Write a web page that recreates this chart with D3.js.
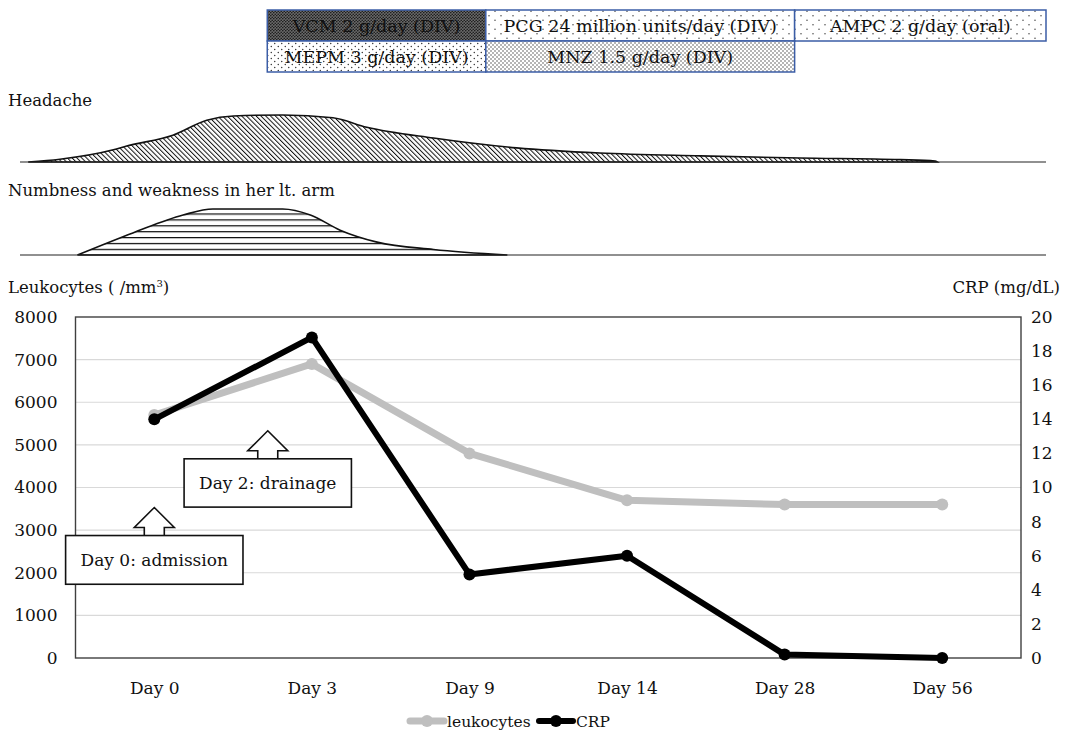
<!DOCTYPE html>
<html>
<head>
<meta charset="utf-8">
<script src="https://cdn.jsdelivr.net/npm/d3@7"></script>
<style>
  body { margin: 0; background: #fff; }
  svg { display: block; }
</style>
</head>
<body>
<svg id="chart" width="1066" height="734"></svg>
<script>
/* Clinical course figure: treatments on top, symptom profiles in the
   middle, leukocytes and CRP on a dual axis line chart at the bottom. */

// main chart data
const days = ['Day 0', 'Day 3', 'Day 9', 'Day 14', 'Day 28', 'Day 56'];
const leukocytes = [5700, 6900, 4800, 3700, 3600, 3600];
const crp = [14.0, 18.8, 4.9, 6.0, 0.2, 0.0];
const leftTicks = [0, 1000, 2000, 3000, 4000, 5000, 6000, 7000, 8000];
const rightTicks = [0, 2, 4, 6, 8, 10, 12, 14, 16, 18, 20];

// treatments, position in % of the clinical course
const treatNames = ['VCM 2 g/day (DIV)', 'PCG 24 million units/day (DIV)', 'AMPC 2 g/day (oral)',
                    'MEPM 3 g/day (DIV)', 'MNZ 1.5 g/day (DIV)'];
const treatRow = [0, 0, 0, 1, 1];
const treatStart = [24.1, 45.4, 75.5, 24.1, 45.4];
const treatEnd = [45.4, 75.5, 100, 45.4, 75.5];

// symptom intensity profiles (course %, relative intensity)
const headachePos = [0.8, 3.9, 9.1, 10.4, 14.9, 18.2, 20.8, 25.6, 30.5, 33.8, 40.3, 48.4, 56.5, 66.3, 76.0, 85.8, 89.2, 89.4];
const headacheVal = [0, 0.06, 0.26, 0.34, 0.57, 0.89, 0.98, 1, 0.94, 0.74, 0.51, 0.30, 0.19, 0.13, 0.085, 0.05, 0.02, 0];
const numbPos = [5.6, 11.0, 15.9, 18.8, 25.6, 28.3, 31.2, 34.8, 40.3, 47.5];
const numbVal = [0, 0.48, 0.87, 1, 1, 0.87, 0.54, 0.28, 0.12, 0];

// annotations: category, fraction of the way to the next category, arrow tip / box bottom (leukocyte units)
const noteText = ['Day 0: admission', 'Day 2: drainage'];
const noteDay = ['Day 0', 'Day 0'];
const noteFrac = [0, 0.72];
const noteTip = [3530, 5330];
const noteBottom = [1730, 3540];

const FONT = '"DejaVu Serif", "Liberation Serif", serif';
const BORDER_BLUE = '#3b5da6';
const treatFill = {
    'VCM 2 g/day (DIV)': 'url(#dotsDark)',
    'PCG 24 million units/day (DIV)': 'url(#dotsSparse)',
    'AMPC 2 g/day (oral)': 'url(#dotsSparse)',
    'MEPM 3 g/day (DIV)': 'url(#dotsMedium)',
    'MNZ 1.5 g/day (DIV)': 'url(#dotsDense)'
};

const svg = d3.select('#chart').attr('font-family', FONT);
const defs = svg.append('defs');

function dotPattern(id, w, h, r, bg, fg) {
    let p = defs.append('pattern').attr('id', id)
        .attr('patternUnits', 'userSpaceOnUse')
        .attr('width', w).attr('height', h);
    p.append('rect').attr('width', w).attr('height', h).attr('fill', bg);
    p.append('circle').attr('cx', w / 4).attr('cy', h / 4).attr('r', r).attr('fill', fg);
    p.append('circle').attr('cx', 3 * w / 4).attr('cy', 3 * h / 4).attr('r', r).attr('fill', fg);
}
dotPattern('dotsDark', 3, 3, 0.8, '#6a6a6a', '#1a1a1a');
dotPattern('dotsSparse', 12, 9, 0.7, '#fff', '#333');
dotPattern('dotsMedium', 7, 6, 0.7, '#fff', '#222');
dotPattern('dotsDense', 4, 4, 0.7, '#fff', '#333');

let hatch = defs.append('pattern').attr('id', 'hatchDiag')
    .attr('patternUnits', 'userSpaceOnUse')
    .attr('width', 3.4).attr('height', 10)
    .attr('patternTransform', 'rotate(-45)');
hatch.append('rect').attr('width', 3.4).attr('height', 10).attr('fill', '#fff');
hatch.append('line').attr('x1', 0.5).attr('x2', 0.5).attr('y1', 0).attr('y2', 10)
    .attr('stroke', '#111').attr('stroke-width', 1);

let horiz = defs.append('pattern').attr('id', 'hatchHoriz')
    .attr('patternUnits', 'userSpaceOnUse')
    .attr('width', 10).attr('height', 5.9).attr('y', 1);
horiz.append('rect').attr('width', 10).attr('height', 5.9).attr('fill', '#fff');
horiz.append('line').attr('x1', 0).attr('x2', 10).attr('y1', 0.6).attr('y2', 0.6)
    .attr('stroke', '#111').attr('stroke-width', 1.3);

/* ---------- treatments ---------- */
const course = d3.scaleLinear().domain([0, 100]).range([20, 1046]);
const treatY = d3.scaleBand().domain([0, 1]).range([10, 72]);

let treat = svg.append('g').selectAll('g')
    .data(treatNames.map((name, i) => ({name, row: treatRow[i], start: treatStart[i], end: treatEnd[i]})))
    .join('g');
treat.append('rect')
    .attr('x', d => course(d.start))
    .attr('y', d => treatY(d.row))
    .attr('width', d => course(d.end) - course(d.start))
    .attr('height', treatY.bandwidth())
    .attr('fill', d => treatFill[d.name])
    .attr('stroke', BORDER_BLUE)
    .attr('stroke-width', 1.5);
treat.append('text')
    .attr('x', d => (course(d.start) + course(d.end)) / 2)
    .attr('y', d => treatY(d.row) + treatY.bandwidth() / 2 + 6)
    .attr('text-anchor', 'middle')
    .attr('font-size', 17.5)
    .attr('fill', '#111')
    .text(d => d.name);

/* ---------- symptoms ---------- */
function drawSymptom(label, labelY, baseY, height, pos, val, fill) {
    let yScale = d3.scaleLinear().domain([0, 1]).range([baseY, baseY - height]);
    let data = pos.map((p, i) => ({p, v: val[i]}));
    svg.append('text').attr('x', 8).attr('y', labelY)
        .attr('font-size', 16.5).attr('fill', '#111').text(label);
    svg.append('path')
        .datum(data)
        .attr('d', d3.area().curve(d3.curveMonotoneX)
            .x(d => course(d.p)).y0(baseY).y1(d => yScale(d.v)))
        .attr('fill', fill)
        .attr('stroke', '#111')
        .attr('stroke-width', 1.6);
    svg.append('line')
        .attr('x1', course(0)).attr('x2', course(100))
        .attr('y1', baseY).attr('y2', baseY)
        .attr('stroke', '#222').attr('stroke-width', 1.2);
}
drawSymptom('Headache', 106, 162, 47, headachePos, headacheVal, 'url(#hatchDiag)');
drawSymptom('Numbness and weakness in her lt. arm', 196, 255, 46, numbPos, numbVal, 'url(#hatchHoriz)');

/* ---------- leukocytes / CRP chart ---------- */
const margin = {left: 75.5, right: 1021, top: 317, bottom: 658};
const x = d3.scalePoint().domain(days).range([margin.left, margin.right]).padding(0.5);
const yLeft = d3.scaleLinear().domain([0, 8000]).range([margin.bottom, margin.top]);
const yRight = d3.scaleLinear().domain([0, 20]).range([margin.bottom, margin.top]);

// grid
svg.append('g').selectAll('line')
    .data(leftTicks.slice(1, -1))
    .join('line')
    .attr('x1', margin.left).attr('x2', margin.right)
    .attr('y1', d => yLeft(d)).attr('y2', d => yLeft(d))
    .attr('stroke', '#d9d9d9').attr('stroke-width', 1.2);

// frame
svg.append('rect')
    .attr('x', margin.left).attr('y', margin.top)
    .attr('width', margin.right - margin.left)
    .attr('height', margin.bottom - margin.top)
    .attr('fill', 'none').attr('stroke', '#404040').attr('stroke-width', 1.4);

// axes (labels only, frame drawn above)
let leftAxis = svg.append('g')
    .attr('transform', `translate(${margin.left},0)`)
    .call(d3.axisLeft(yLeft).tickValues(leftTicks).tickFormat(d3.format('d')).tickSize(0).tickPadding(18));
let rightAxis = svg.append('g')
    .attr('transform', `translate(${margin.right},0)`)
    .call(d3.axisRight(yRight).tickValues(rightTicks).tickFormat(d3.format('d')).tickSize(0).tickPadding(10));
let bottomAxis = svg.append('g')
    .attr('transform', `translate(0,${margin.bottom})`)
    .call(d3.axisBottom(x).tickSize(0).tickPadding(24));
for (let axis of [leftAxis, rightAxis, bottomAxis]) {
    axis.attr('font-family', FONT).attr('font-size', 17);
    axis.select('.domain').remove();
    axis.selectAll('text').attr('fill', '#111');
}

// axis titles
let leftTitle = svg.append('text').attr('x', 8).attr('y', 293)
    .attr('font-size', 16.5).attr('fill', '#111');
leftTitle.append('tspan').text('Leukocytes ( /mm');
leftTitle.append('tspan').attr('font-size', 10).attr('dy', -6).text('3');
leftTitle.append('tspan').attr('dy', 6).text(')');
svg.append('text').attr('x', 1060).attr('y', 293)
    .attr('text-anchor', 'end')
    .attr('font-size', 16.5).attr('fill', '#111')
    .text('CRP (mg/dL)');

// annotations
function arrowBox(g, cx, tipY, boxTop, boxBottom, label) {
    let headBase = tipY + 20;
    g.append('path')
        .attr('d', `M${cx},${tipY} L${cx + 20},${headBase} L${cx + 10},${headBase} L${cx + 10},${boxTop + 1}
                    L${cx - 10},${boxTop + 1} L${cx - 10},${headBase} L${cx - 20},${headBase} Z`)
        .attr('fill', '#fff').attr('stroke', '#111').attr('stroke-width', 1.6);
    let text = g.append('text')
        .attr('x', cx).attr('y', (boxTop + boxBottom) / 2 + 6)
        .attr('text-anchor', 'middle')
        .attr('font-size', 17).attr('fill', '#111')
        .text(label);
    let w = text.node().getComputedTextLength() + 30;
    g.insert('rect', 'text')
        .attr('x', cx - w / 2).attr('y', boxTop)
        .attr('width', w).attr('height', boxBottom - boxTop)
        .attr('fill', '#fff').attr('stroke', '#111').attr('stroke-width', 1.6);
}
const step = x.step();
noteText.forEach((label, i) => {
    let cx = x(noteDay[i]) + noteFrac[i] * step;
    let tipY = yLeft(noteTip[i]);
    let boxBottom = yLeft(noteBottom[i]);
    arrowBox(svg.append('g'), cx, tipY, tipY + 28, boxBottom, label);
});

// series lines
const leukoData = days.map((d, i) => ({day: d, v: leukocytes[i]}));
const crpData = days.map((d, i) => ({day: d, v: crp[i]}));

svg.append('path').datum(leukoData)
    .attr('d', d3.line().x(d => x(d.day)).y(d => yLeft(d.v)))
    .attr('fill', 'none').attr('stroke', '#bfbfbf')
    .attr('stroke-width', 7).attr('stroke-linejoin', 'round');
svg.append('g').selectAll('circle').data(leukoData).join('circle')
    .attr('cx', d => x(d.day)).attr('cy', d => yLeft(d.v)).attr('r', 6)
    .attr('fill', '#bfbfbf');

svg.append('path').datum(crpData)
    .attr('d', d3.line().x(d => x(d.day)).y(d => yRight(d.v)))
    .attr('fill', 'none').attr('stroke', '#000')
    .attr('stroke-width', 6).attr('stroke-linejoin', 'round');
svg.append('g').selectAll('circle').data(crpData).join('circle')
    .attr('cx', d => x(d.day)).attr('cy', d => yRight(d.v)).attr('r', 6)
    .attr('fill', '#000');

// legend
const legendItems = [
    {label: 'leukocytes', color: '#bfbfbf', width: 7},
    {label: 'CRP', color: '#000', width: 6}
];
const legendX = d3.scalePoint().domain(legendItems.map(d => d.label)).range([410, 539]);
let legend = svg.append('g').selectAll('g').data(legendItems).join('g')
    .attr('transform', d => `translate(${legendX(d.label)},721)`);
legend.append('line').attr('x1', 0).attr('x2', 34)
    .attr('stroke', d => d.color).attr('stroke-width', d => d.width)
    .attr('stroke-linecap', 'round');
legend.append('circle').attr('cx', 17).attr('r', 6).attr('fill', d => d.color);
legend.append('text').attr('x', 37).attr('y', 6)
    .attr('font-size', 15.5).attr('fill', '#111')
    .text(d => d.label);
</script>
</body>
</html>
